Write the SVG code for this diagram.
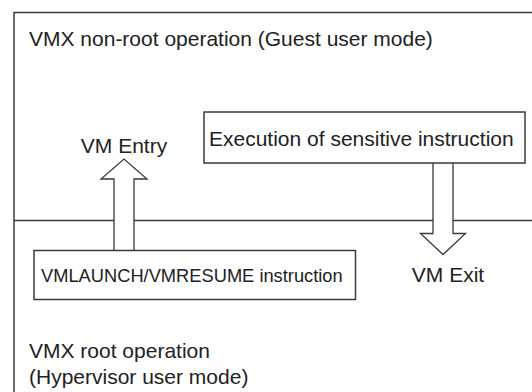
<svg xmlns="http://www.w3.org/2000/svg" width="532" height="392" viewBox="0 0 532 392">
<style>
.ln{fill:none;stroke:#3a3a3a;stroke-width:1.5}
.box{fill:#fff;stroke:#3a3a3a;stroke-width:1.5}
.arr{fill:#fff;stroke:#3a3a3a;stroke-width:1.3;stroke-linejoin:miter}
text{font-family:"Liberation Sans",Arial,sans-serif;fill:#222}
.t{font-size:21px}
.s{font-size:18.3px}
</style>
<rect width="532" height="392" fill="#fff"/>
<g id="frame">
<path class="ln" d="M14,400 V12.5 H540"/>
<line class="ln" x1="14" y1="220.5" x2="540" y2="220.5"/>
</g>
<g id="nonroot-label"><text class="t" x="29" y="46">VMX non-root operation (Guest user mode)</text></g>
<g id="root-label"><text class="t" x="29" y="358">VMX root operation</text><text class="t" x="29" y="384">(Hypervisor user mode)</text></g>
<g id="connectors">
<path class="arr" d="M114,250 V179 H101 L124,159 L147,179 H134 V250"/>
<path class="arr" d="M433,163 V233.5 H420.5 L443,254.5 L465.5,233.5 H453 V163"/>
</g>
<g id="exec"><rect class="box" x="204" y="112" width="321" height="51"/><text class="t" x="209" y="145.5">Execution of sensitive instruction</text></g>
<g id="vmlaunch"><rect class="box" x="34" y="250.5" width="321.5" height="49"/><text class="s" x="41" y="281.5">VMLAUNCH/VMRESUME instruction</text></g>
<g id="vmentry"><text class="t" x="124" y="153" text-anchor="middle">VM Entry</text></g>
<g id="vmexit"><text class="t" x="448" y="282" text-anchor="middle">VM Exit</text></g>
</svg>
